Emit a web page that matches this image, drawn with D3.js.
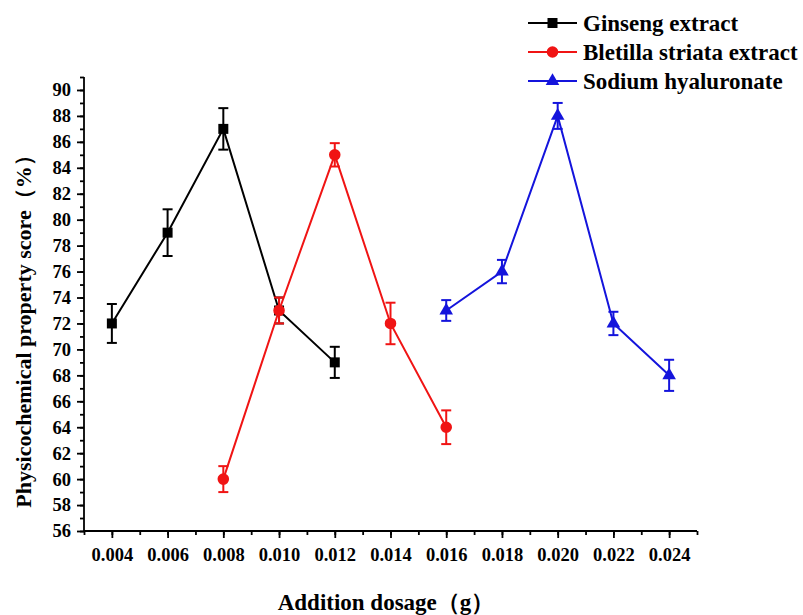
<!DOCTYPE html>
<html>
<head>
<meta charset="utf-8">
<script src="https://cdn.jsdelivr.net/npm/d3@7"></script>
<style>
  html, body { margin: 0; padding: 0; background: #fff; }
  svg { display: block; }
  text { font-family: "Liberation Serif", "Times New Roman", serif; font-weight: bold; fill: #000; }
</style>
</head>
<body>
<script>
// Dosages (g) and property scores (%) with standard deviations
const ginsengX   = [0.004, 0.006, 0.008, 0.010, 0.012];
const ginsengY   = [72, 79, 87, 73, 69];
const ginsengErr = [1.5, 1.8, 1.6, 1.0, 1.2];

const bletillaX   = [0.008, 0.010, 0.012, 0.014, 0.016];
const bletillaY   = [60, 73, 85, 72, 64];
const bletillaErr = [1.0, 1.0, 0.9, 1.6, 1.3];

const sodiumX   = [0.016, 0.018, 0.020, 0.022, 0.024];
const sodiumY   = [73, 76, 88, 72, 68];
const sodiumErr = [0.8, 0.9, 1.0, 0.9, 1.2];

const seriesNames = ["Ginseng extract", "Bletilla striata extract", "Sodium hyaluronate"];
const xTicks = [0.004, 0.006, 0.008, 0.010, 0.012, 0.014, 0.016, 0.018, 0.020, 0.022, 0.024];
const yTicks = [56, 58, 60, 62, 64, 66, 68, 70, 72, 74, 76, 78, 80, 82, 84, 86, 88, 90];

const W = 803, H = 615;
const plotL = 84, plotR = 697, plotT = 77, plotB = 531;

const svg = d3.select("body").append("svg").attr("width", W).attr("height", H);

const x = d3.scaleLinear().domain([0.003, 0.025]).range([plotL, plotR]);
const y = d3.scaleLinear().domain([56, 91]).range([plotB, plotT]);

const series = [
  { name: seriesNames[0], xs: ginsengX,  ys: ginsengY,  err: ginsengErr,  color: "#000000", shape: d3.symbolSquare,   size: 100 },
  { name: seriesNames[1], xs: bletillaX, ys: bletillaY, err: bletillaErr, color: "#f01414", shape: d3.symbolCircle,   size: 105 },
  { name: seriesNames[2], xs: sodiumX,   ys: sodiumY,   err: sodiumErr,   color: "#1414dc", shape: d3.symbolTriangle, size: 80 }
];

// Axes with minor ticks
const xMinor = d3.range(3, 25.5, 1).map(v => v / 1000);
const yMinor = d3.range(56, 91.5, 1);

const xAxisG = svg.append("g").attr("transform", `translate(0,${plotB})`);
xAxisG.call(d3.axisBottom(x).tickValues(xMinor).tickSize(4).tickFormat(""));
xAxisG.call(g => g.select(".domain").remove());
const xMajor = svg.append("g").attr("transform", `translate(0,${plotB})`)
  .call(d3.axisBottom(x).tickValues(xTicks).tickSize(7).tickPadding(10).tickFormat(d3.format(".3f")));
xMajor.select(".domain").attr("d", `M${plotL},0H${plotR}`);

const yAxisG = svg.append("g").attr("transform", `translate(${plotL},0)`);
yAxisG.call(d3.axisLeft(y).tickValues(yMinor).tickSize(4).tickFormat(""));
yAxisG.call(g => g.select(".domain").remove());
const yMajor = svg.append("g").attr("transform", `translate(${plotL},0)`)
  .call(d3.axisLeft(y).tickValues(yTicks).tickSize(7).tickPadding(6).tickFormat(d3.format("d")));
yMajor.select(".domain").attr("d", `M0,${plotT}V${plotB}`);

svg.selectAll(".domain, .tick line").attr("stroke", "#000").attr("stroke-width", 1.8);
svg.selectAll(".tick text")
  .attr("font-family", "Liberation Serif, serif").attr("font-weight", "bold")
  .attr("font-size", 18.5).attr("fill", "#000");

// Axis titles
svg.append("text")
  .attr("x", 386).attr("y", 610)
  .attr("text-anchor", "middle").attr("font-size", 23)
  .text("Addition dosage（g）");

svg.append("text")
  .attr("transform", "translate(31,326) rotate(-90)")
  .attr("text-anchor", "middle").attr("font-size", 22)
  .text("Physicochemical property score（%）");

// Series: lines, error bars, markers
const line = d3.line().x(d => x(d[0])).y(d => y(d[1]));
const capHalf = 5;

series.forEach(s => {
  const pts = s.xs.map((v, i) => [v, s.ys[i], s.err[i]]);
  const g = svg.append("g");
  g.append("path").datum(pts).attr("d", line)
    .attr("fill", "none").attr("stroke", s.color).attr("stroke-width", 2);

  const eb = g.selectAll(".eb").data(pts).enter().append("g")
    .attr("stroke", s.color).attr("stroke-width", 2);
  eb.append("line")
    .attr("x1", d => x(d[0])).attr("x2", d => x(d[0]))
    .attr("y1", d => y(d[1] - d[2])).attr("y2", d => y(d[1] + d[2]));
  eb.append("line")
    .attr("x1", d => x(d[0]) - capHalf).attr("x2", d => x(d[0]) + capHalf)
    .attr("y1", d => y(d[1] + d[2])).attr("y2", d => y(d[1] + d[2]));
  eb.append("line")
    .attr("x1", d => x(d[0]) - capHalf).attr("x2", d => x(d[0]) + capHalf)
    .attr("y1", d => y(d[1] - d[2])).attr("y2", d => y(d[1] - d[2]));

  g.selectAll(".mk").data(pts).enter().append("path")
    .attr("transform", d => `translate(${x(d[0])},${y(d[1])})`)
    .attr("d", d3.symbol().type(s.shape).size(s.size))
    .attr("fill", s.color);
});

// Legend
const legend = svg.append("g");
const legRows = [23, 52, 81];
series.forEach((s, i) => {
  const ly = legRows[i];
  legend.append("line").attr("x1", 528).attr("x2", 577).attr("y1", ly).attr("y2", ly)
    .attr("stroke", s.color).attr("stroke-width", 2.2);
  legend.append("path").attr("transform", `translate(552.5,${ly})`)
    .attr("d", d3.symbol().type(s.shape).size(s.size))
    .attr("fill", s.color);
  legend.append("text").attr("x", 583).attr("y", ly).attr("dy", "0.35em")
    .attr("font-size", 23).text(s.name);
});
</script>
</body>
</html>
